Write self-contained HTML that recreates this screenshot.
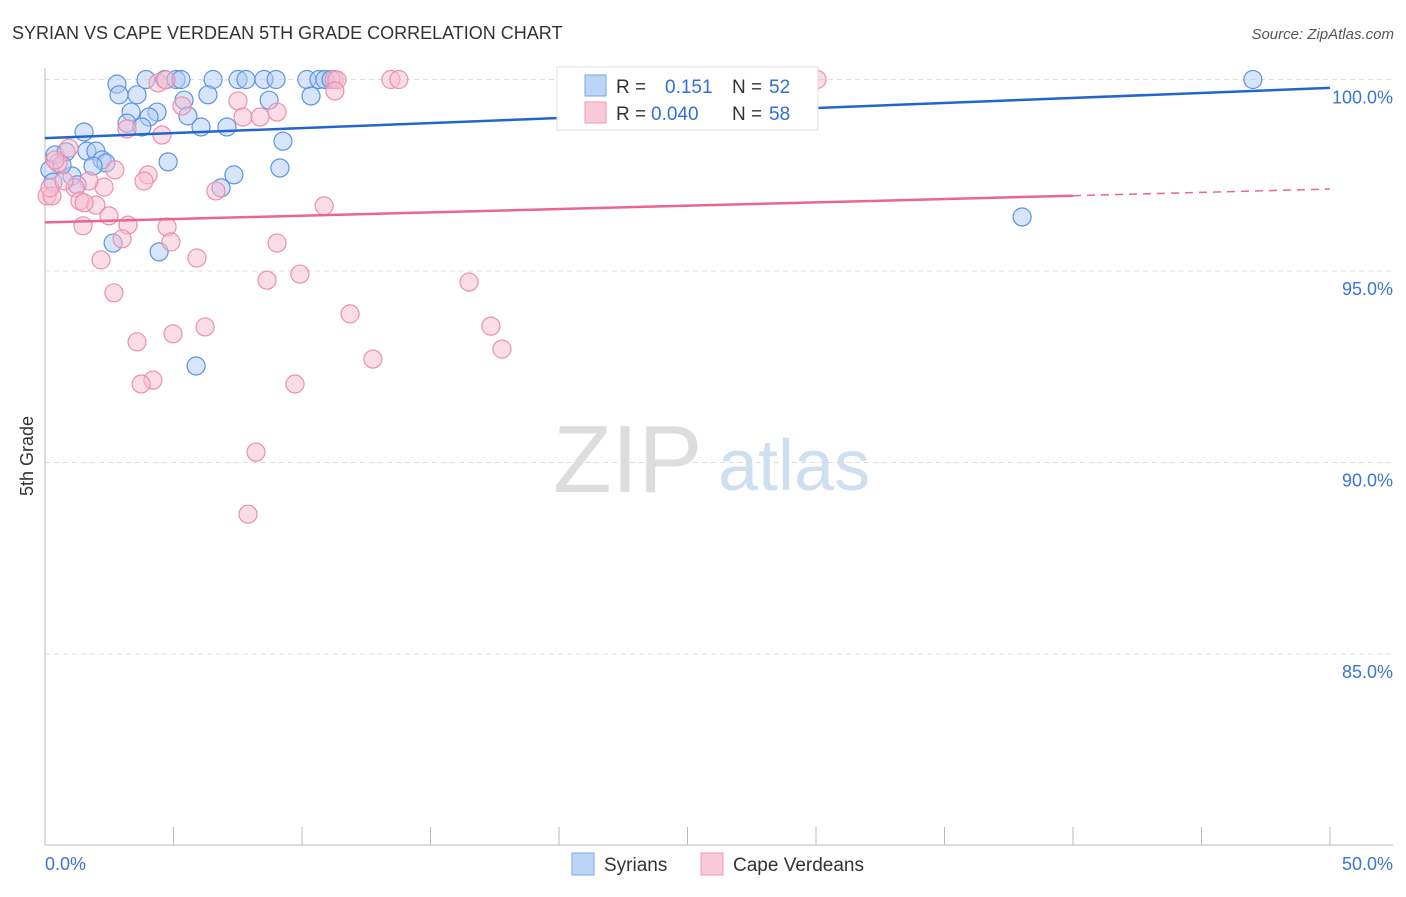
<!DOCTYPE html>
<html><head><meta charset="utf-8"><style>
body{margin:0;background:#fff;font-family:"Liberation Sans",sans-serif;}
svg text{font-family:"Liberation Sans",sans-serif;}
</style></head><body>
<svg id="chart" width="1406" height="892" viewBox="0 0 1406 892" xmlns="http://www.w3.org/2000/svg">
<text x="12" y="39" font-size="18" fill="#333">SYRIAN VS CAPE VERDEAN 5TH GRADE CORRELATION CHART</text>
<text x="1394" y="39" font-size="15" fill="#555" text-anchor="end" font-style="italic">Source: ZipAtlas.com</text>
<g>
<text x="553" y="492" font-size="96" fill="#ddd" font-family="Liberation Serif,serif">ZIP</text>
<text x="718" y="490" font-size="72" fill="#cfdff2">atlas</text>
</g>
<g id="grid"></g>
<g id="axes"></g>
<g id="pts"></g>
<g id="trend"></g>
<text transform="translate(33,456) rotate(-90)" font-size="18" fill="#333" text-anchor="middle">5th Grade</text>
<g>
<rect x="557" y="67" width="261" height="63" fill="#fff" stroke="#ddd"/>
<rect x="585" y="75" width="21" height="21" fill="#bcd5f7" stroke="#7aa6e8"/>
<rect x="585" y="102" width="21" height="21" fill="#f9c9d8" stroke="#ee9ab4"/>
<text x="616" y="93" font-size="19" fill="#333">R =</text><text x="665" y="93" font-size="19" fill="#2f6fd6">0.151</text>
<text x="732" y="93" font-size="19" fill="#333">N =</text><text x="769" y="93" font-size="19" fill="#2f6fd6">52</text>
<text x="616" y="120" font-size="19" fill="#333">R =</text><text x="651" y="120" font-size="19" fill="#2f6fd6">0.040</text>
<text x="732" y="120" font-size="19" fill="#333">N =</text><text x="769" y="120" font-size="19" fill="#2f6fd6">58</text>
</g>
<g>
<rect x="572" y="853" width="22" height="22" fill="#bcd5f7" stroke="#7aa6e8"/>
<text x="604" y="871" font-size="19" fill="#333">Syrians</text>
<rect x="701" y="853" width="22" height="22" fill="#f9c9d8" stroke="#ee9ab4"/>
<text x="733" y="871" font-size="19" fill="#333">Cape Verdeans</text>
</g>
</svg>
<script>
const blueX=[2.80,3.93,4.67,5.10,5.29,6.54,7.51,7.82,8.52,8.99,10.19,10.66,10.89,11.13,27.82,47.00,2.88,3.58,5.41,6.34,8.72,10.35,3.35,4.36,4.05,5.56,3.19,3.77,6.07,7.08,1.52,9.26,0.39,0.82,1.63,1.98,2.22,2.37,4.79,1.87,9.14,7.35,1.05,1.25,6.85,0.19,2.65,4.44,5.88,38.02,0.66,0.31];
const blueY=[99.88,100,100,100,100,100,100,100,100,100,100,100,100,100,100,100,99.60,99.60,99.46,99.60,99.46,99.57,99.15,99.15,99.02,99.05,98.86,98.76,98.76,98.76,98.63,98.39,98.03,98.11,98.13,98.13,97.90,97.82,97.85,97.74,97.69,97.51,97.48,97.25,97.17,97.64,95.73,95.50,92.52,96.41,97.77,97.32];
const pinkX=[4.40,4.71,11.25,11.36,13.46,13.77,30.04,11.28,7.51,5.33,9.03,7.70,8.37,3.19,4.55,0.93,0.51,2.72,4.01,3.85,2.30,1.71,1.17,6.65,0.08,0.27,1.36,1.98,1.52,2.49,1.48,3.23,4.75,10.86,3.00,4.90,9.03,2.18,5.91,8.64,9.92,16.50,2.68,11.87,6.23,17.35,4.98,3.58,17.78,12.76,4.20,3.74,9.73,8.21,7.90,0.19,0.74,0.39];
const pinkY=[99.91,99.99,100,99.99,100,100,100,99.70,99.44,99.31,99.15,99.02,99.02,98.71,98.55,98.21,97.82,97.64,97.51,97.35,97.19,97.35,97.17,97.09,96.96,96.96,96.83,96.72,96.78,96.44,96.18,96.20,96.15,96.70,95.84,95.76,95.73,95.29,95.34,94.76,94.92,94.71,94.43,93.88,93.54,93.56,93.36,93.15,92.96,92.70,92.15,92.05,92.05,90.27,88.65,97.17,97.35,97.90];
const blueTrend=[98.47,99.78];
const pinkTrend=[96.27,97.14];
const yTicks=[100,95,90,85];
const yTickLabels=["100.0%","95.0%","90.0%","85.0%"];
const xTickLabels=["0.0%","50.0%"];
const NS="http://www.w3.org/2000/svg";
const X0=45,X1=1330,YTOP=79.5,PXPER=38.3;
function sx(v){return X0+(X1-X0)*v/50;}
function sy(v){return YTOP+(100-v)*PXPER;}
function mk(tag,attrs,parent){const e=document.createElementNS(NS,tag);for(const k in attrs)e.setAttribute(k,attrs[k]);document.getElementById(parent).appendChild(e);return e;}
yTicks.forEach((t,i)=>{
  const l=mk('line',{x1:X0,x2:1393,y1:sy(t),y2:sy(t),stroke:'#ddd','stroke-dasharray':'5,4'},'grid');
  
  
  const tx=mk('text',{x:1393,y:sy(t)+24,'font-size':18,fill:'#3a75d6','text-anchor':'end'},'grid');
  tx.textContent=yTickLabels[i];
  
  
});
let a=mk('line',{x1:X0,x2:X0,y1:68,y2:845,stroke:'#bbb'},'axes');


a=mk('line',{x1:X0,x2:1393,y1:845,y2:845,stroke:'#bbb'},'axes');


for(let k=0;k<=10;k++){
  const t=mk('line',{x1:sx(k*5),x2:sx(k*5),y1:827,y2:845,stroke:'#bbb'},'axes');
  
  
}
[[0,'start',45],[50,'end',1393]].forEach((d,i)=>{
  const t=mk('text',{x:d[2],y:870,'font-size':18,fill:'#3a75d6','text-anchor':d[1]},'axes');
  t.textContent=xTickLabels[i];
  
  
});
function dots(xs,ys,fill,stroke,name){
  xs.forEach((x,i)=>{
    const c=mk('circle',{cx:sx(x),cy:sy(ys[i]),r:9,fill:fill,'fill-opacity':0.5,stroke:stroke,'stroke-width':1.2},'pts');
    
    
  });
}
dots(blueX,blueY,'#aecbf3','#5d93e0','syrian-point');
dots(pinkX,pinkY,'#f7bcd0','#ec8fae','cape-verdean-point');
let ln=mk('line',{x1:sx(0),y1:sy(blueTrend[0]),x2:sx(50),y2:sy(blueTrend[1]),stroke:'#2266cc','stroke-width':2.5},'trend');


const pm=pinkTrend[0]+(pinkTrend[1]-pinkTrend[0])*0.8;
ln=mk('line',{x1:sx(0),y1:sy(pinkTrend[0]),x2:sx(40),y2:sy(pm),stroke:'#e8668f','stroke-width':2.5},'trend');


ln=mk('line',{x1:sx(40),y1:sy(pm),x2:sx(50),y2:sy(pinkTrend[1]),stroke:'#e8668f','stroke-width':1.5,'stroke-dasharray':'8,6'},'trend');


</script>
</body></html>
